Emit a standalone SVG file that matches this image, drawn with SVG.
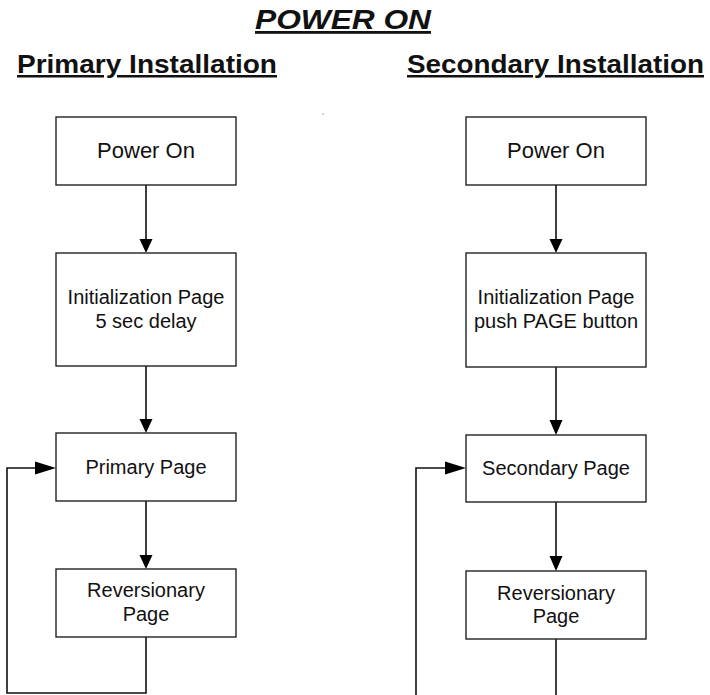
<svg xmlns="http://www.w3.org/2000/svg" width="710" height="695" viewBox="0 0 710 695">
<style>
.box{fill:#fff;stroke:#222;stroke-width:1.4}
.t{font-family:"Liberation Sans",Arial,sans-serif;font-size:20px;fill:#111;text-anchor:middle}
.big{font-size:22px}
.h{font-family:"Liberation Sans",Arial,sans-serif;font-weight:bold;fill:#111;text-decoration:underline}
.ln{fill:none;stroke:#111;stroke-width:1.6}
.ah{fill:#000}
</style>
<rect width="710" height="695" fill="#fff"/>
<g id="titles">
<text class="h" x="255" y="29" font-size="28" font-style="italic" textLength="176" lengthAdjust="spacingAndGlyphs">POWER ON</text>
<text class="h" x="17" y="73" font-size="25" textLength="260" lengthAdjust="spacingAndGlyphs">Primary Installation</text>
<text class="h" x="407" y="73" font-size="25" textLength="297" lengthAdjust="spacingAndGlyphs">Secondary Installation</text>
</g>
<rect x="322.5" y="113.5" width="1.2" height="1.2" fill="#888"/>
<g id="connectors">
<path class="ln" d="M146 185V240M146 366V420M146 501V556M146 637V693H7V468H36"/>
<polygon class="ah" points="139.5,239 152.5,239 146,253"/>
<polygon class="ah" points="139.5,419 152.5,419 146,433"/>
<polygon class="ah" points="139.5,555 152.5,555 146,569"/>
<polygon class="ah" points="35,461.5 35,474.5 56,468"/>
<path class="ln" d="M556 185V240M556 367V421M556 502V557M556 639V695M416 695V468H446"/>
<polygon class="ah" points="549.5,239 562.5,239 556,253"/>
<polygon class="ah" points="549.5,420 562.5,420 556,435"/>
<polygon class="ah" points="549.5,556 562.5,556 556,571"/>
<polygon class="ah" points="445,461.5 445,474.5 466,468"/>
</g>
<g id="p_power">
<rect class="box" x="56" y="117" width="180" height="68"/>
<text class="t big" x="146" y="158">Power On</text>
</g>
<g id="p_init">
<rect class="box" x="56" y="253" width="180" height="113"/>
<text class="t" x="146" y="304">Initialization Page</text>
<text class="t" x="146" y="328">5 sec delay</text>
</g>
<g id="p_primary">
<rect class="box" x="56" y="433" width="180" height="68"/>
<text class="t" x="146" y="474">Primary Page</text>
</g>
<g id="p_rev">
<rect class="box" x="56" y="569" width="180" height="68"/>
<text class="t" x="146" y="597">Reversionary</text>
<text class="t" x="146" y="621">Page</text>
</g>
<g id="s_power">
<rect class="box" x="466" y="117" width="180" height="68"/>
<text class="t big" x="556" y="158">Power On</text>
</g>
<g id="s_init">
<rect class="box" x="466" y="253" width="180" height="114"/>
<text class="t" x="556" y="304">Initialization Page</text>
<text class="t" x="556" y="328">push PAGE button</text>
</g>
<g id="s_secondary">
<rect class="box" x="466" y="435" width="180" height="67"/>
<text class="t" x="556" y="475">Secondary Page</text>
</g>
<g id="s_rev">
<rect class="box" x="466" y="571" width="180" height="68"/>
<text class="t" x="556" y="600">Reversionary</text>
<text class="t" x="556" y="623">Page</text>
</g>
</svg>
